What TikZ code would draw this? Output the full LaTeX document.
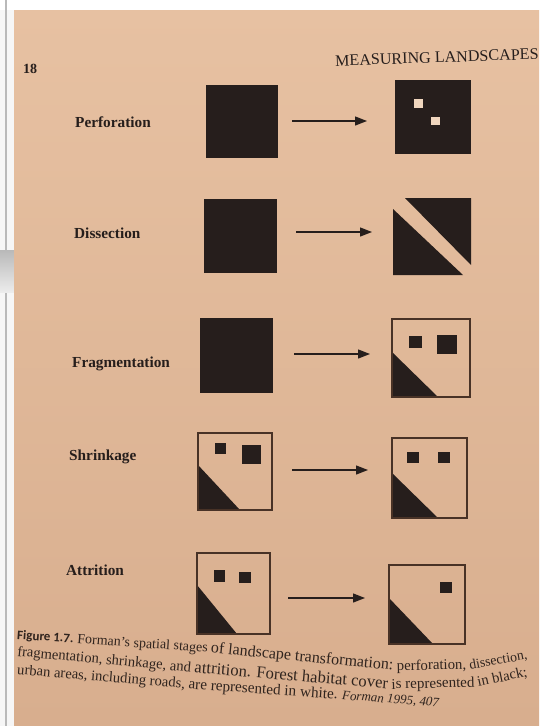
\documentclass[tikz,border=0pt]{standalone}
\usepackage{fontspec}
\setmainfont{Liberation Serif}
\newfontfamily\figsans{Carlito}
\usetikzlibrary{arrows.meta}
\definecolor{paper}{RGB}{231,193,162}
\definecolor{paperlow}{RGB}{216,174,142}
\definecolor{holecol}{RGB}{240,214,190}
\definecolor{ink}{RGB}{38,30,28}
\definecolor{rim}{RGB}{72,50,38}
\definecolor{capink}{RGB}{48,36,30}
\newcommand{\fsz}[1]{\fontsize{#1}{#1}\selectfont}
\begin{document}
\begin{tikzpicture}[x=1pt,y=-1pt,
  solidsq/.style={rectangle,fill=ink,inner sep=0pt,outer sep=0pt},
  framesq/.style={rectangle,draw=rim,line width=1.2pt,inner sep=0pt,outer sep=0pt},
  ghostsq/.style={rectangle,inner sep=0pt,outer sep=0pt},
  patch/.style={fill=ink},
  hole/.style={fill=holecol},
  stagearrow/.style={draw=ink,line width=1.3pt,-{Triangle[length=12pt,width=9pt]}},
  stagelabel/.style={anchor=west,font=\fsz{15.3}\bfseries,text=ink,inner sep=0pt},
  capseg/.style={anchor=base west,inner sep=0pt,outer sep=0pt,text=capink},
]
\useasboundingbox (0,0) rectangle (539,726);
\begin{scope}
\clip (0,0) rectangle (539,726);
% surroundings of the photographed page
\fill[white] (0,0) rectangle (539,726);
\fill[gray!7] (0,10) rectangle (14,726);
\draw[gray!55,line width=1.4pt] (6,0) -- (6,726);
\shade[top color=gray!55,bottom color=gray!15] (0,250) rectangle (14,292);
% page
\shade[top color=paper,bottom color=paperlow] (14,10) rectangle (539,726);

% header
\node[anchor=west,inner sep=0pt,text=ink,font=\fsz{14}\bfseries] (pagenum) at (23,69) {18};
\node[anchor=west,inner sep=0pt,text=ink,rotate=2,font=\fsz{16.1}] (runhead) at (335,61) {MEASURING LANDSCAPES};

% labels
\node[stagelabel] (lab1) at (75,122) {Perforation};
\node[stagelabel] (lab2) at (74,233) {Dissection};
\node[stagelabel] (lab3) at (72,364) {Fragmentation};
\node[stagelabel] (lab4) at (69,457) {Shrinkage};
\node[stagelabel] (lab5) at (66,570) {Attrition};

% ---- row 1: perforation
\node[solidsq,minimum width=72pt,minimum height=73pt] (L1) at (242,121.5) {};
\node[solidsq,minimum width=76pt,minimum height=74pt] (R1) at (433,117) {};
\fill[hole] (414,99) rectangle (423,108);
\fill[hole] (431,117) rectangle (440,125);
\coordinate (a1s) at (292,121);
\coordinate (a1e) at (367,121);
\draw[stagearrow] (a1s) -- (a1e);

% ---- row 2: dissection
\node[solidsq,minimum width=73pt,minimum height=74pt] (L2) at (240.5,236) {};
\node[ghostsq,minimum width=78pt,minimum height=77pt] (R2) at (432,236.5) {};
\fill[patch] (405,198) -- (471,198) -- (471,265) -- cycle;
\fill[patch] (393,209) -- (393,275) -- (463,275) -- cycle;
\coordinate (a2s) at (296,232);
\coordinate (a2e) at (372,232);
\draw[stagearrow] (a2s) -- (a2e);

% ---- row 3: fragmentation
\node[solidsq,minimum width=73pt,minimum height=75pt] (L3) at (236.5,355.5) {};
\fill[patch] (409,336) rectangle (422,348);
\fill[patch] (437,335) rectangle (457,354);
\fill[patch] (392,352) -- (392,397) -- (438,397) -- cycle;
\node[framesq,minimum width=78pt,minimum height=78pt] (R3) at (431,358) {};
\coordinate (a3s) at (294,354);
\coordinate (a3e) at (370,354);
\draw[stagearrow] (a3s) -- (a3e);

% ---- row 4: shrinkage
\fill[patch] (215,443) rectangle (226,454);
\fill[patch] (242,445) rectangle (261,464);
\fill[patch] (198,465) -- (198,510) -- (240,510) -- cycle;
\node[framesq,minimum width=74pt,minimum height=77pt] (L4) at (235,471.5) {};
\fill[patch] (407,452) rectangle (419,463);
\fill[patch] (438,452) rectangle (450,463);
\fill[patch] (392,473) -- (392,518) -- (438,518) -- cycle;
\node[framesq,minimum width=75pt,minimum height=80pt] (R4) at (429.5,478) {};
\coordinate (a4s) at (292,470);
\coordinate (a4e) at (368,470);
\draw[stagearrow] (a4s) -- (a4e);

% ---- row 5: attrition
\fill[patch] (214,570) rectangle (225,582);
\fill[patch] (239,572) rectangle (251,583);
\fill[patch] (197,585) -- (197,634) -- (237,634) -- cycle;
\node[framesq,minimum width=73pt,minimum height=81pt] (L5) at (233.5,593.5) {};
\fill[patch] (440,582) rectangle (452,593);
\fill[patch] (389,598) -- (389,644) -- (433,644) -- cycle;
\node[framesq,minimum width=76pt,minimum height=79pt] (R5) at (427,604.5) {};
\coordinate (a5s) at (288,598);
\coordinate (a5e) at (365,598);
\draw[stagearrow] (a5s) -- (a5e);

% ---- caption, in pieces that follow the curl of the page
% line 1
\node[capseg,rotate=-4,font=\figsans\bfseries\fsz{13}] (c1a) at (17,639)
  {Figure 1.7.\hspace*{0.3em}{\rmfamily\mdseries\fsz{14}Forman’s spatial stages}\hspace*{0.25em}};
\node[capseg,rotate=-5.5,font=\fsz{16}] (c1b) at (c1a.base east) {of landscape transformation:\hspace*{0.25em}};
\node[capseg,rotate=1,font=\fsz{14.8}] (c1c) at (c1b.base east) {perforation,\hspace*{0.25em}};
\node[capseg,rotate=10,font=\fsz{13.8}] (c1d) at (c1c.base east) {dissection,};
% line 2
\node[capseg,rotate=-5.3,font=\fsz{14.6}] (c2a) at (17,656) {fragmentation, shrinkage, and\hspace*{0.25em}};
\node[capseg,rotate=-4.8,font=\fsz{16.6}] (c2b) at (c2a.base east) {attrition. Forest habitat cover\hspace*{0.25em}};
\node[capseg,rotate=1.5,font=\fsz{15}] (c2c) at (c2b.base east) {is represented\hspace*{0.25em}};
\node[capseg,rotate=12,font=\fsz{14.6}] (c2d) at (c2c.base east) {in black;};
% line 3
\node[capseg,rotate=-4.9,font=\fsz{14.6}] (c3a) at (17,674) {urban areas, including roads,\hspace*{0.25em}};
\node[capseg,rotate=-4,font=\fsz{15.2}] (c3b) at (c3a.base east) {are represented in white.\hspace*{0.3em}};
\node[capseg,rotate=-4.3,font=\itshape\fsz{13}] (c3c) at (c3b.base east) {Forman 1995, 407};
\end{scope}
\end{tikzpicture}
\end{document}
